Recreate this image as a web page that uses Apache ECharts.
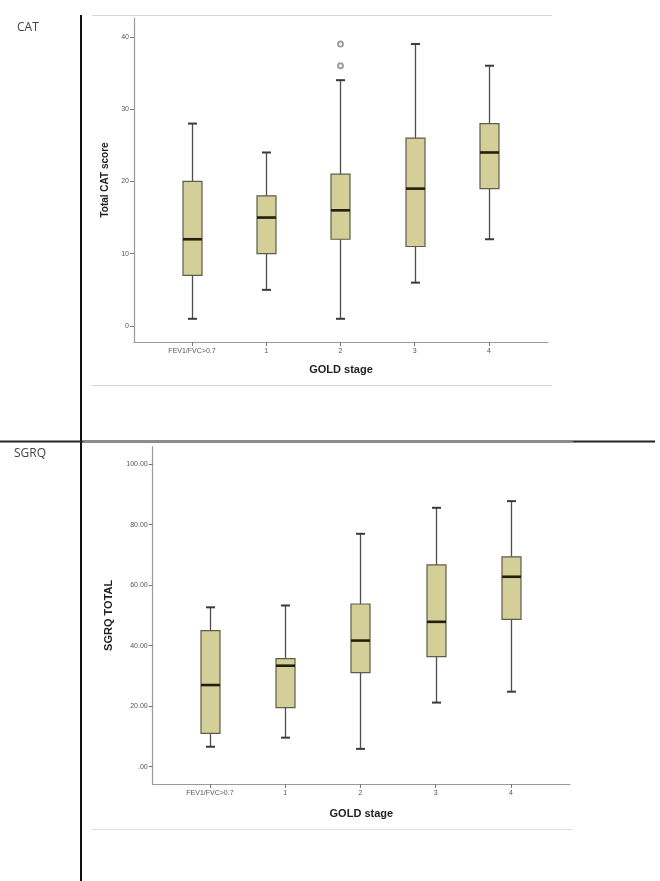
<!DOCTYPE html>
<html><head><meta charset="utf-8">
<script src="https://cdn.jsdelivr.net/npm/echarts@6/dist/echarts.min.js"></script>
<style>html,body{margin:0;padding:0;background:#fff}#c{width:660px;height:881px}</style>
</head><body><div id="c"></div>
<script>
const categories = ['FEV1/FVC>0.7', '1', '2', '3', '4'];
const categoryIndex = [0, 1, 2, 3, 4];
// [min, Q1, median, Q3, max]
const catBoxes = [
  [1, 7, 12, 20, 28],
  [5, 10, 15, 18, 24],
  [1, 12, 16, 21, 34],
  [6, 11, 19, 26, 39],
  [12, 19, 24, 28, 36]
];
const catOutliers = [[2, 36], [2, 39]];
const catTicks = [0, 10, 20, 30, 40];
const sgrqBoxes = [
  [6.6, 11, 27, 45, 52.7],
  [9.6, 19.5, 33.4, 35.7, 53.3],
  [5.9, 31.1, 41.7, 53.8, 77],
  [21.2, 36.4, 47.9, 66.7, 85.6],
  [24.8, 48.7, 62.8, 69.4, 87.8]
];
const sgrqTicks = [0, 20, 40, 60, 80, 100];

const FONT = '"Liberation Sans", Arial, sans-serif';

function renderBox(params, api) {
  const x = api.value(0);
  const pMin = api.coord([x, api.value(1)]);
  const pQ1 = api.coord([x, api.value(2)]);
  const pMed = api.coord([x, api.value(3)]);
  const pQ3 = api.coord([x, api.value(4)]);
  const pMax = api.coord([x, api.value(5)]);
  const cx = Math.round(pMin[0]) + 0.5;
  const bw = 19, cw = 9;
  const ws = { stroke: '#4d4d4d', lineWidth: 1.3 };
  const cs = { stroke: '#3a3a3a', lineWidth: 2 };
  return {
    type: 'group',
    children: [
      { type: 'line', shape: { x1: cx, y1: pMin[1], x2: cx, y2: pQ1[1] }, style: ws },
      { type: 'line', shape: { x1: cx, y1: pQ3[1], x2: cx, y2: pMax[1] }, style: ws },
      { type: 'line', shape: { x1: cx - cw / 2, y1: pMin[1], x2: cx + cw / 2, y2: pMin[1] }, style: cs },
      { type: 'line', shape: { x1: cx - cw / 2, y1: pMax[1], x2: cx + cw / 2, y2: pMax[1] }, style: cs },
      { type: 'rect', shape: { x: cx - bw / 2, y: pQ3[1], width: bw, height: pQ1[1] - pQ3[1] },
        style: { fill: '#d4cf99', stroke: '#5e5c4c', lineWidth: 1.2 } },
      { type: 'line', shape: { x1: cx - bw / 2, y1: pMed[1], x2: cx + bw / 2, y2: pMed[1] },
        style: { stroke: '#231f0a', lineWidth: 2.6 } }
    ]
  };
}

function xAxis(gridIndex, min, max, gap) {
  return {
    gridIndex, type: 'value', min, max,
    splitLine: { show: false },
    axisLine: { onZero: false, lineStyle: { color: '#9a9a9a', width: 1.2 } },
    axisTick: { customValues: categoryIndex, length: 4, lineStyle: { color: '#777' } },
    axisLabel: { customValues: categoryIndex, formatter: v => categories[v], fontSize: 7, color: '#555', margin: 6, fontFamily: FONT },
    name: 'GOLD stage', nameLocation: 'middle', nameGap: gap,
    nameTextStyle: { fontWeight: 'bold', fontSize: 11, color: '#222', fontFamily: FONT }
  };
}
function yAxis(gridIndex, min, max, ticks, fmt, name, gap, nameSize) {
  return {
    gridIndex, type: 'value', min, max,
    splitLine: { show: false },
    axisLine: { show: true, onZero: false, lineStyle: { color: '#9a9a9a', width: 1.2 } },
    axisTick: { show: true, customValues: ticks, length: 4, lineStyle: { color: '#777' } },
    axisLabel: { customValues: ticks, formatter: fmt, fontSize: 7, color: '#555', margin: 5, fontFamily: FONT },
    name, nameLocation: 'middle', nameGap: gap,
    nameTextStyle: { fontWeight: 'bold', fontSize: nameSize, color: '#222', fontFamily: FONT }
  };
}

const chart = echarts.init(document.getElementById('c'), null, { renderer: 'canvas' });
chart.setOption({
  animation: false,
  backgroundColor: '#fff',
  grid: [
    { left: 134, top: 18, width: 414, height: 324 },
    { left: 152.7, top: 446.7, width: 417.3, height: 337.3 }
  ],
  xAxis: [
    xAxis(0, -0.781, 4.795, 22),
    xAxis(1, -0.761, 4.784, 24)
  ],
  yAxis: [
    yAxis(0, -2.21, 42.6, catTicks, v => String(v), 'Total CAT score', 17, 10),
    yAxis(1, -5.72, 105.8, sgrqTicks, v => (v === 0 ? '.00' : v.toFixed(2)), 'SGRQ TOTAL', 38, 11)
  ],
  series: [
    { type: 'custom', xAxisIndex: 0, yAxisIndex: 0, renderItem: renderBox,
      data: catBoxes.map((b, i) => [categoryIndex[i]].concat(b)), encode: { x: 0, y: [1, 2, 3, 4, 5] } },
    { type: 'scatter', xAxisIndex: 0, yAxisIndex: 0, symbol: 'emptyCircle', symbolSize: 5,
      itemStyle: { color: '#888', borderColor: '#888', borderWidth: 1.2 }, data: catOutliers, z: 5 },
    { type: 'custom', xAxisIndex: 1, yAxisIndex: 1, renderItem: renderBox,
      data: sgrqBoxes.map((b, i) => [categoryIndex[i]].concat(b)), encode: { x: 0, y: [1, 2, 3, 4, 5] } }
  ],
  graphic: [
    // table borders
    { type: 'line', shape: { x1: 81, y1: 15, x2: 81, y2: 881 }, style: { stroke: '#111', lineWidth: 2 }, z: 10 },
    { type: 'line', shape: { x1: 0, y1: 441.5, x2: 655, y2: 441.5 }, style: { stroke: '#222', lineWidth: 2 }, z: 10 },
    { type: 'line', shape: { x1: 83, y1: 441.5, x2: 573, y2: 441.5 }, style: { stroke: '#8a8a8a', lineWidth: 2 }, z: 11 },
    // chart frames
    { type: 'line', shape: { x1: 92, y1: 15.5, x2: 552, y2: 15.5 }, style: { stroke: '#d8d8d8', lineWidth: 1 }, z: 5 },
    { type: 'line', shape: { x1: 92, y1: 385.5, x2: 552, y2: 385.5 }, style: { stroke: '#d8d8d8', lineWidth: 1 }, z: 5 },
    { type: 'line', shape: { x1: 92, y1: 829.5, x2: 573, y2: 829.5 }, style: { stroke: '#dcdcdc', lineWidth: 1 }, z: 5 },
    // row labels
    { type: 'text', left: 17, top: 22, style: { text: 'CAT', font: '12px "Open Sans", sans-serif', fill: '#444' } },
    { type: 'text', left: 14, top: 448, style: { text: 'SGRQ', font: '12px "Open Sans", sans-serif', fill: '#444' } }
  ]
});
</script>
</body></html>
